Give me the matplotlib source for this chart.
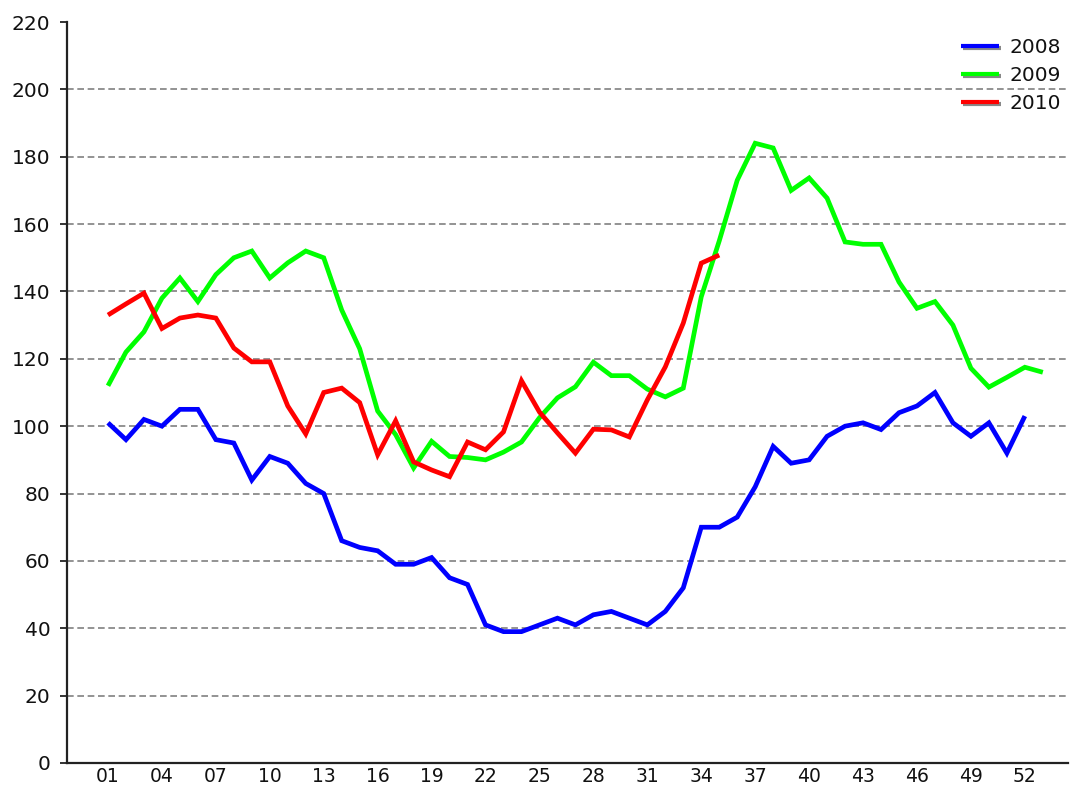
import matplotlib
matplotlib.use("Agg")
import matplotlib.pyplot as plt
import matplotlib.patheffects as pe

weeks_2008 = list(range(1, 53))
vals_2008 = [101, 96, 102, 100, 105, 105, 96, 95, 84, 91, 89, 83, 80, 66, 64, 63, 59, 59, 61, 55,
             53, 41, 39, 39, 41, 43, 41, 44, 45, 43, 41, 45, 52, 70, 70, 73, 82, 94, 89, 90,
             97, 100, 101, 99, 104, 106, 110, 101, 97, 101, 92, 103]

weeks_2009 = list(range(1, 54))
vals_2009 = [112, 122, 128, 138, 144, 137, 145, 150, 152, 144, 148.5, 152, 150, 134.5, 123, 104.5, 97.5, 87.6, 95.5, 91,
             90.7, 90, 92.3, 95.3, 102.5, 108.4, 111.7, 119, 115, 115, 111, 108.7, 111.3, 138.4, 155, 173, 184, 182.6, 170, 173.7,
             167.7, 154.7, 154, 154, 142.8, 135, 137, 130, 117.2, 111.6, 114.5, 117.5, 116]

weeks_2010 = list(range(1, 36))
vals_2010 = [133, 136.3, 139.5, 129, 132.1, 133, 132.1, 123.2, 119.1, 119.1, 106, 97.7, 110, 111.3, 107, 91.5, 101.6, 89.4, 87, 85,
             95.3, 93, 98.3, 113.5, 104.2, 98, 92, 99.1, 98.9, 96.8, 107.8, 117.6, 130.6, 148.4, 150.8]

series = [("2008", weeks_2008, vals_2008, "#0000ff"),
          ("2009", weeks_2009, vals_2009, "#00ff00"),
          ("2010", weeks_2010, vals_2010, "#ff0000")]

tick_weeks = list(range(1, 53, 3))
tick_labels = [f"{w:02d}" for w in tick_weeks]
y_ticks = list(range(0, 221, 20))

fig = plt.figure(figsize=(10.70, 7.87), dpi=100)
ax = fig.add_axes([67 / 1070, (787 - 763) / 787, (1068 - 67) / 1070, (763 - 22) / 787])

for y in y_ticks[1:-1]:
    ax.axhline(y, color="#808080", linewidth=1.2, linestyle=(0, (4, 2.2)), zorder=1)

for name, w, v, c in series:
    ax.plot(w, v, color=c, linewidth=3.4, label=name, zorder=3,
            solid_joinstyle="miter", solid_capstyle="butt")

ax.set_xlim(-1.28, 54.4)
ax.set_ylim(0, 220)
ax.set_xticks(tick_weeks)
ax.set_xticklabels(tick_labels)
ax.set_yticks(y_ticks)
ax.tick_params(axis="x", length=0, pad=3, labelsize=13.5, colors="#111111")
ax.tick_params(axis="y", length=5, width=1.2, pad=7, labelsize=14.5, colors="#111111")

for s in ["top", "right"]:
    ax.spines[s].set_visible(False)
for s in ["left", "bottom"]:
    ax.spines[s].set_linewidth(1.6)
    ax.spines[s].set_color("#222222")

leg = ax.legend(loc="upper right", bbox_to_anchor=(1.005, 0.995), frameon=False,
                fontsize=14.5, handlelength=1.9, handletextpad=0.5, labelspacing=0.45,
                borderaxespad=0.2)
for h in leg.get_lines():
    h.set_linewidth(3.0)
    h.set_path_effects([pe.SimpleLineShadow(offset=(1.5, -1.5), shadow_color="#888888", alpha=1.0),
                        pe.Normal()])
for t in leg.get_texts():
    t.set_color("#111111")

fig.savefig("out.png", dpi=100)
